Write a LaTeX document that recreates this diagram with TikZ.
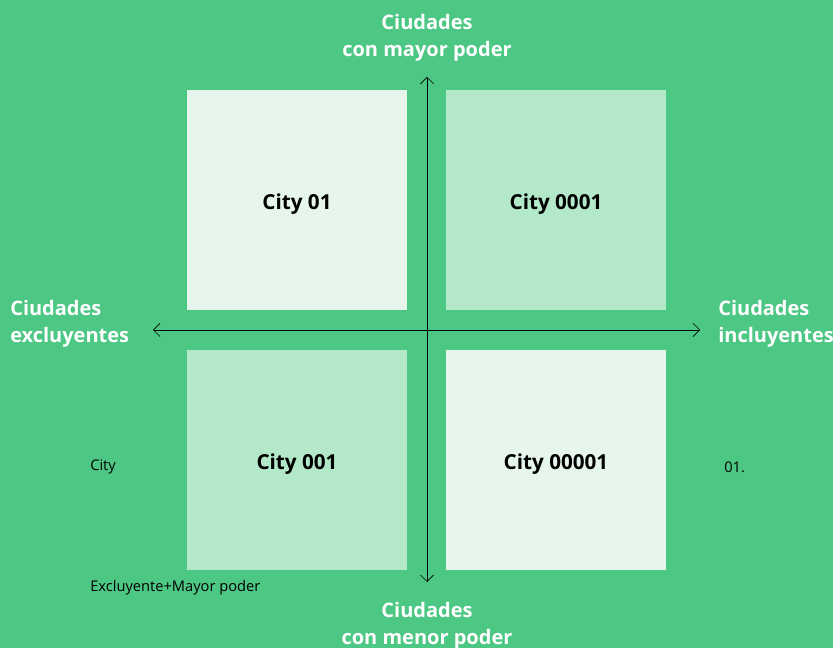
\documentclass[tikz,border=0pt]{standalone}
\usepackage{fontspec}
\setmainfont{Open Sans}
\usetikzlibrary{arrows.meta, positioning}

\definecolor{bggreen}{RGB}{77,199,132}
\definecolor{palegreen}{RGB}{230,246,236}
\definecolor{softgreen}{RGB}{179,232,201}

\tikzset{
    quad/.style={minimum width=165pt, minimum height=165pt, inner sep=0pt},
    citylabel/.style={inner sep=0pt, font=\fontsize{15.5}{18}\selectfont\bfseries},
    axislabel/.style={text=white, font=\fontsize{15}{20.3}\selectfont\bfseries, inner sep=0pt},
    note/.style={font=\fontsize{11}{13}\selectfont, inner sep=0pt, anchor=west},
    axisarrow/.style={{Straight Barb[length=5pt, width=10pt]}-{Straight Barb[length=5pt, width=10pt]}},
}

\begin{document}
\begin{tikzpicture}[x=0.75pt, y=-0.75pt]
    \fill[bggreen] (0, 0) rectangle (833, 648);
    \useasboundingbox (0, 0) rectangle (833, 648);

    % The four quadrants
    \node[quad, fill=palegreen, label={[citylabel, yshift=-3pt]center:City 01}] (tl) at (297, 200) {};
    \node[quad, fill=softgreen, label={[citylabel, yshift=-3pt]center:City 0001}] (tr) at (556, 200) {};
    \node[quad, fill=softgreen, label={[citylabel, yshift=-3pt]center:City 001}] (bl) at (297, 460) {};
    \node[quad, fill=palegreen, label={[citylabel, yshift=-3pt]center:City 00001}] (br) at (556, 460) {};

    % Axes
    \coordinate (west) at (153, 330);
    \coordinate (east) at (700, 330);
    \coordinate (north) at (427, 77);
    \coordinate (south) at (427, 582);
    \draw[axisarrow] (west) -- (east);
    \draw[axisarrow] (north) -- (south);

    % Axis labels
    \node[axislabel, align=center] (top) at (427, 38) {Ciudades\\con mayor poder};
    \node[axislabel, align=center] (bottom) at (427, 626) {Ciudades\\con menor poder};
    \node[axislabel, align=left, anchor=west] (left) at (10, 324) {Ciudades\\excluyentes};
    \node[axislabel, align=left, anchor=west] (right) at (718, 324) {Ciudades\\incluyentes};

    % Small notes
    \node[note] (city) at (90, 467) {City};
    \node[note] (num) at (724, 467) {01.};
    \node[note] (combo) at (90, 588) {Excluyente+Mayor poder};
\end{tikzpicture}
\end{document}
